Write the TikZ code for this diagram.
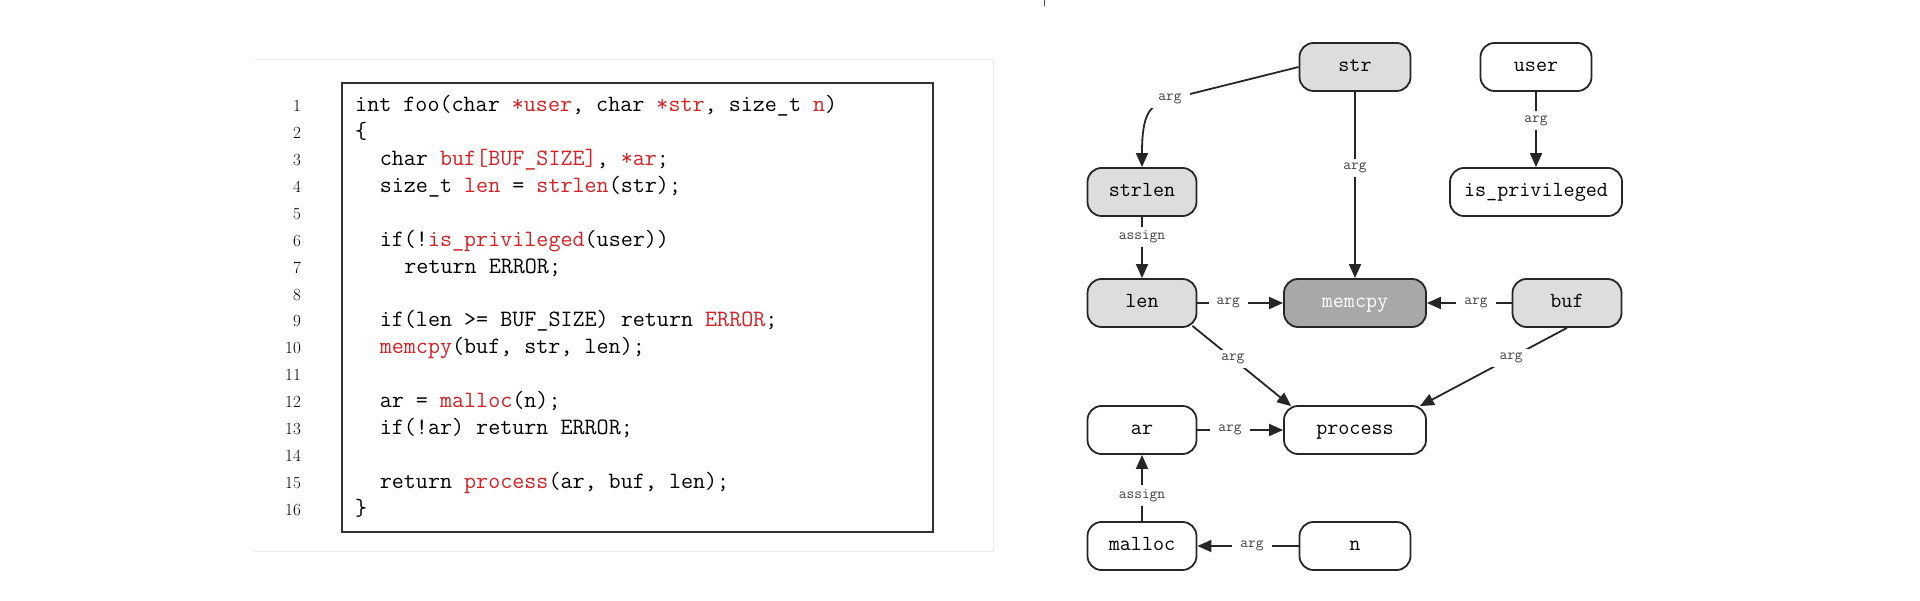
\documentclass[tikz,border=0pt]{standalone}
\usepackage{fontspec}
\usetikzlibrary{arrows.meta}
\definecolor{cred}{RGB}{214,32,38}
\definecolor{nodegray}{RGB}{221,221,221}
\definecolor{darkfill}{RGB}{168,168,168}
\begin{document}
\begin{tikzpicture}[x=1pt,y=1pt,
  gnode/.style={draw=black!85, line width=1.8pt, rounded corners=14pt, minimum height=48pt, inner sep=0pt,
    text height=13pt, text depth=4pt, font=\fontsize{21.5}{24}\selectfont\ttfamily},
  gfill/.style={fill=nodegray},
  gdark/.style={fill=darkfill, text=white},
  wfill/.style={fill=white},
  conn/.style={draw=black!85, line width=1.8pt, -{Triangle[length=14pt,width=12pt]}},
  elabel/.style={fill=white, inner xsep=8pt, inner ysep=4pt, font=\fontsize{15}{17}\selectfont\ttfamily, text=black!75},
  codeline/.style={anchor=base west, inner sep=0pt, font=\fontsize{23.4}{26}\selectfont\ttfamily},
  lnum/.style={anchor=base east, inner sep=0pt, font=\fontsize{17}{20}\selectfont},
]
\useasboundingbox (0,0) rectangle (1920,600);

% faint panel
\draw[black!8, line width=1pt] (255,540) -- (993,540) -- (993,49) -- (255,49);
% code box
\draw[black!80, line width=1.8pt] (342,517) rectangle (933,68);

% line numbers
\node[lnum] (n1)  at (301,488)    {1};
\node[lnum] (n2)  at (301,461.13) {2};
\node[lnum] (n3)  at (301,434.26) {3};
\node[lnum] (n4)  at (301,407.39) {4};
\node[lnum] (n5)  at (301,380.52) {5};
\node[lnum] (n6)  at (301,353.65) {6};
\node[lnum] (n7)  at (301,326.78) {7};
\node[lnum] (n8)  at (301,299.91) {8};
\node[lnum] (n9)  at (301,273.04) {9};
\node[lnum] (n10) at (301,246.17) {10};
\node[lnum] (n11) at (301,219.3)  {11};
\node[lnum] (n12) at (301,192.43) {12};
\node[lnum] (n13) at (301,165.56) {13};
\node[lnum] (n14) at (301,138.69) {14};
\node[lnum] (n15) at (301,111.82) {15};
\node[lnum] (n16) at (301,84.95)  {16};

% code
\node[codeline] (c1l)  at (355,488)      {int foo(char \textcolor{cred}{*user}, char \textcolor{cred}{*str}, size\_t \textcolor{cred}{n})};
\node[codeline] (c2l)  at (355,461.13)   {\{};
\node[codeline] (c3l)  at (379.6,434.26) {char \textcolor{cred}{buf[BUF\_SIZE]}, \textcolor{cred}{*ar};};
\node[codeline] (c4l)  at (379.6,407.39) {size\_t \textcolor{cred}{len} = \textcolor{cred}{strlen}(str);};
\node[codeline] (c6l)  at (379.6,353.65) {if(!\textcolor{cred}{is\_privileged}(user))};
\node[codeline] (c7l)  at (404.2,326.78) {return ERROR;};
\node[codeline] (c9l)  at (379.6,273.04) {if(len >= BUF\_SIZE) return \textcolor{cred}{ERROR};};
\node[codeline] (c10l) at (379.6,246.17) {\textcolor{cred}{memcpy}(buf, str, len);};
\node[codeline] (c12l) at (379.6,192.43) {ar = \textcolor{cred}{malloc}(n);};
\node[codeline] (c13l) at (379.6,165.56) {if(!ar) return ERROR;};
\node[codeline] (c15l) at (379.6,111.82) {return \textcolor{cred}{process}(ar, buf, len);};
\node[codeline] (c16l) at (355,84.95)    {\}};

% graph nodes
\node[gnode,gfill,minimum width=111pt] (str) at (1355,533) {str};
\node[gnode,wfill,minimum width=111pt] (user) at (1536,533) {user};
\node[gnode,gfill,minimum width=109pt] (strlen) at (1142,408) {strlen};
\node[gnode,wfill,minimum width=172pt] (ispriv) at (1536,408) {is\_privileged};
\node[gnode,gfill,minimum width=109pt] (len) at (1142,297) {len};
\node[gnode,gdark,minimum width=142pt] (memcpy) at (1355,297) {memcpy};
\node[gnode,gfill,minimum width=109pt] (buf) at (1567,297) {buf};
\node[gnode,wfill,minimum width=109pt] (ar) at (1142,170) {ar};
\node[gnode,wfill,minimum width=142pt] (process) at (1355,170) {process};
\node[gnode,wfill,minimum width=109pt] (malloc) at (1142,54) {malloc};
\node[gnode,wfill,minimum width=111pt] (n) at (1355,54) {n};

% edges
\coordinate (bend) at (1170,501);
\draw[conn] (str.west) -- (bend) node[elabel] {arg}
  .. controls (1150,495) and (1142,488) .. (strlen.north);
\draw[conn] (str) -- node[elabel,pos=0.41] {arg} (memcpy);
\draw[conn] (user) -- node[elabel,pos=0.38] {arg} (ispriv);
\draw[conn] (strlen) -- node[elabel,pos=0.33] {assign} (len);
\draw[conn] (len) -- node[elabel,pos=0.36] {arg} (memcpy);
\draw[conn] (buf) -- node[elabel,pos=0.42] {arg} (memcpy);
\draw[conn] ([xshift=-5pt,yshift=2pt]len.south east) -- node[elabel,pos=0.41] {arg} ([xshift=8pt,yshift=-1pt]process.north west);
\draw[conn] (buf.south) -- node[elabel,pos=0.38] {arg} ([xshift=-7pt,yshift=-1pt]process.north east);
\draw[conn] (ar) -- node[elabel,pos=0.38] {arg} (process);
\draw[conn] (malloc) -- node[elabel,pos=0.39] {assign} (ar);
\draw[conn] (n) -- node[elabel,pos=0.46] {arg} (malloc);

% small mark at the top edge
\draw[black!70, line width=1pt] (1044,600) -- (1044,594);
\end{tikzpicture}
\end{document}
